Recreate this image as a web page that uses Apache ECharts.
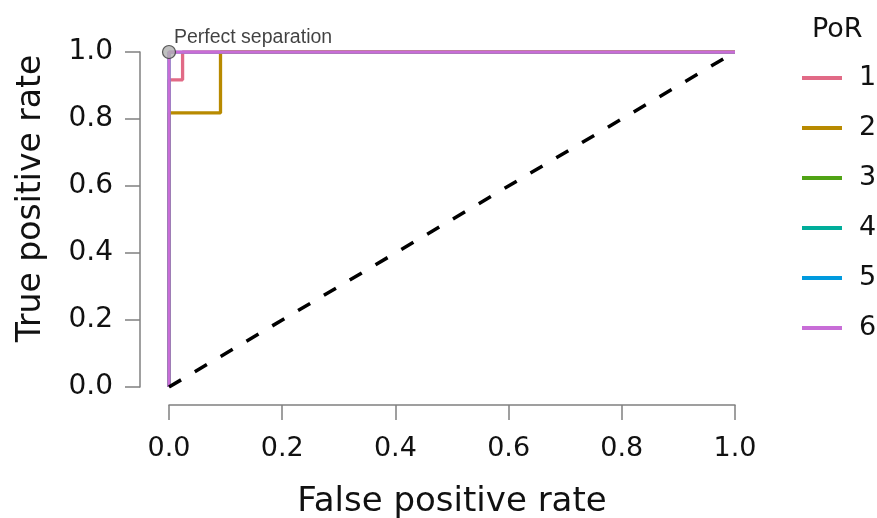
<!DOCTYPE html>
<html>
<head>
<meta charset="utf-8">
<script src="https://cdn.jsdelivr.net/npm/echarts@6/dist/echarts.min.js"></script>
<style>html,body{margin:0;padding:0;background:#fff}#c{width:877px;height:518px}</style>
</head>
<body>
<div id="c"></div>
<script>
var groups = ['1', '2', '3', '4', '5', '6'];
var colors = ['#E16A86', '#B88A00', '#50A315', '#00AD9A', '#009ADE', '#C86DD7'];
var fpr1 = [0, 0, 0.024, 0.024, 1];
var tpr1 = [0, 0.917, 0.917, 1, 1];
var fpr2 = [0, 0, 0.091, 0.091, 1];
var tpr2 = [0, 0.818, 0.818, 1, 1];
var fpr3 = [0, 0, 1];
var tpr3 = [0, 1, 1];
var fpr4 = [0, 0, 1];
var tpr4 = [0, 1, 1];
var fpr5 = [0, 0, 1];
var tpr5 = [0, 1, 1];
var fpr6 = [0, 0, 1];
var tpr6 = [0, 1, 1];
var diagX = [0, 1];
var diagY = [0, 1];
var perfectX = [0];
var perfectY = [1];
var tickLabels = ['0.0', '0.2', '0.4', '0.6', '0.8', '1.0'];

function pairs(xs, ys) { return xs.map(function (x, i) { return [x, ys[i]]; }); }
var fprs = [fpr1, fpr2, fpr3, fpr4, fpr5, fpr6];
var tprs = [tpr1, tpr2, tpr3, tpr4, tpr5, tpr6];
var widths = [3.3, 3.3, 2.6, 2.6, 2.6, 3.3];

var FONT = 'DejaVu Sans, sans-serif';
var series = groups.map(function (g, i) {
  return {
    name: g, type: 'line', data: pairs(fprs[i], tprs[i]),
    showSymbol: false, symbol: 'none', silent: true, animation: false,
    lineStyle: { color: colors[i], width: widths[i] }, itemStyle: { color: colors[i] }, z: 2 + i
  };
});
series.push({
  type: 'line', data: pairs(diagX, diagY), symbol: 'none', silent: true, animation: false,
  lineStyle: { color: '#000', width: 3.5, type: [14, 16], cap: 'butt' }, z: 10
});
series.push({
  type: 'scatter', data: pairs(perfectX, perfectY), symbolSize: 13, silent: true, animation: false,
  itemStyle: { color: '#b0b0b0', borderColor: '#333', borderWidth: 1.2 }, z: 20,
  label: { show: true, formatter: 'Perfect separation', position: [12, -17], fontSize: 19.5, color: '#111', fontFamily: 'Liberation Sans, Arial, sans-serif' }
});

var chart = echarts.init(document.getElementById('c'), null, { renderer: 'canvas' });
chart.setOption({
  animation: false,
  backgroundColor: '#fff',
  title: { text: 'PoR', left: 807, top: 11, textStyle: { fontSize: 27, fontWeight: 'normal', color: '#111', fontFamily: FONT } },
  legend: {
    data: groups, orient: 'vertical', left: 797, top: 58,
    icon: 'rect', itemWidth: 40, itemHeight: 4, itemGap: 20,
    textStyle: { fontSize: 27, color: '#111', fontFamily: FONT, padding: [0, 0, 0, 12], lineHeight: 30 },
    selectedMode: false
  },
  grid: { left: 169, right: 142, top: 52, bottom: 131, containLabel: false, outerBoundsMode: 'none' },
  xAxis: {
    type: 'value', min: 0, max: 1, interval: 0.2, offset: 18,
    name: 'False positive rate', nameLocation: 'middle', nameGap: 80, nameMoveOverlap: false,
    nameTextStyle: { fontSize: 34, color: '#111', fontFamily: FONT },
    axisLine: { show: true, onZero: false, lineStyle: { color: '#808080', width: 1.5 } },
    axisTick: { show: true, length: 15, lineStyle: { color: '#808080', width: 1.5 } },
    axisLabel: { fontSize: 27, color: '#111', margin: 30, fontFamily: FONT, formatter: function (v) { return tickLabels[Math.round(v * 5)]; } },
    splitLine: { show: false }
  },
  yAxis: {
    type: 'value', min: 0, max: 1, interval: 0.2, offset: 29,
    name: 'True positive rate', nameLocation: 'middle', nameGap: 92, nameRotate: 90, nameMoveOverlap: false,
    nameTextStyle: { fontSize: 33, color: '#111', fontFamily: FONT, padding: [0, 0, 0, 42] },
    axisLine: { show: true, onZero: false, lineStyle: { color: '#808080', width: 1.5 } },
    axisTick: { show: true, length: 15, lineStyle: { color: '#808080', width: 1.5 } },
    axisLabel: { fontSize: 28, color: '#111', margin: 27, fontFamily: FONT, formatter: function (v) { return tickLabels[Math.round(v * 5)]; } },
    splitLine: { show: false }
  },
  series: series
});
</script>
</body>
</html>
